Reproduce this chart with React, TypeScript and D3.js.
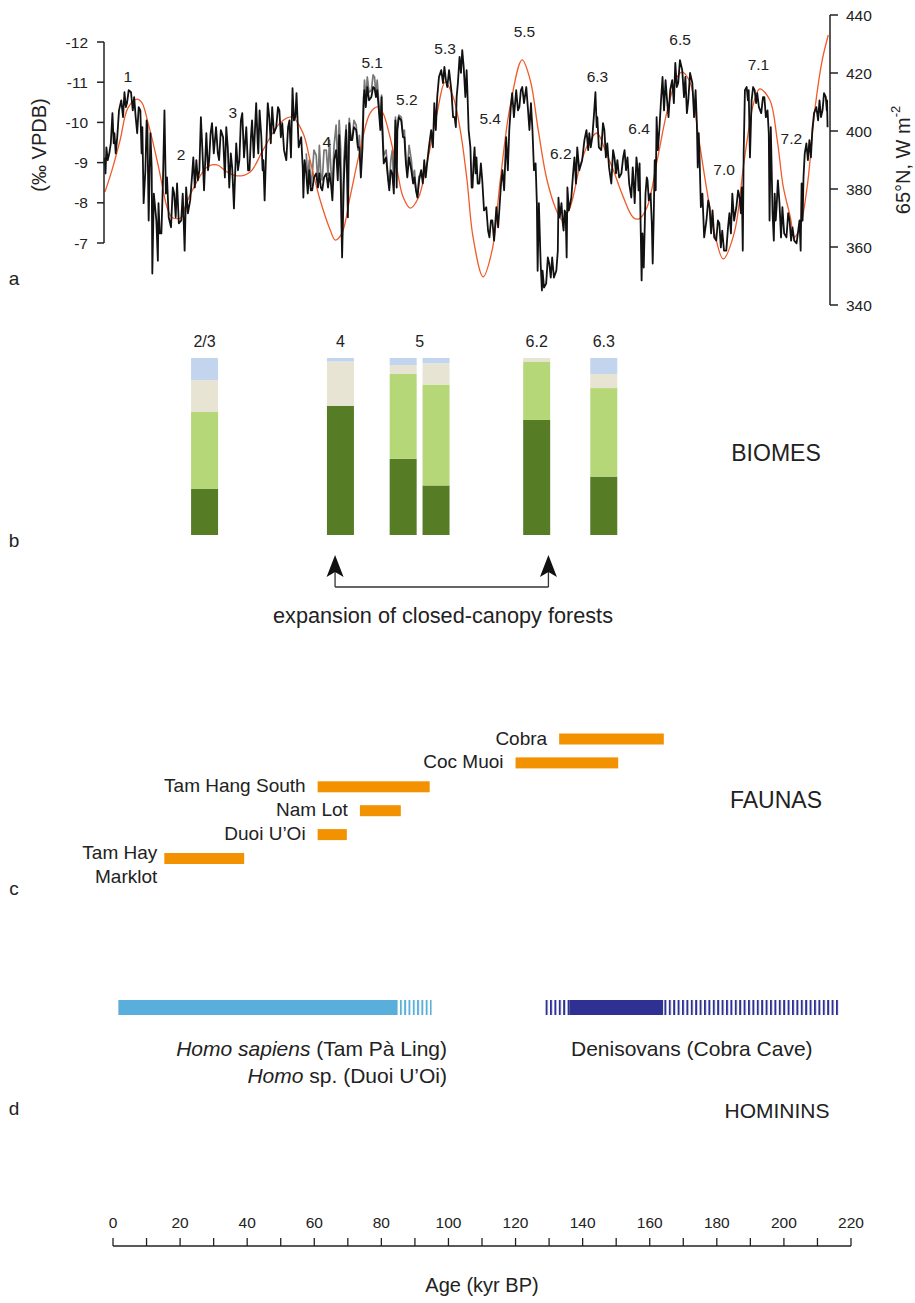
import React from 'react';
import * as d3 from 'd3';

const FONT = '"Liberation Sans", Arial, Helvetica, sans-serif';

// ---------- Panel a: 65°N insolation (W m-2) ----------
const insolAge = [0.3, 2.4, 4.8, 7.1, 9.8, 11.3, 13.1, 14.6, 16.4, 19.0, 20.5, 23.2, 24.1, 27.1, 30.7, 33.6, 36.6, 39.6, 43.5, 47.3, 52.4, 56.0, 59.2, 61.3, 64.3, 67.3, 68.8, 70.8, 73.2, 76.2, 79.2, 81.5, 83.0, 85.1, 87.2, 89.0, 91.1, 93.5, 96.1, 99.1, 101.5, 103.9, 106.0, 108.0, 109.8, 112.8, 115.5, 117.9, 120.8, 124.4, 126.8, 129.2, 131.8, 134.8, 136.3, 138.7, 141.7, 144.6, 146.7, 149.1, 151.5, 154.5, 157.4, 159.2, 161.6, 164.6, 167.6, 170.5, 172.0, 174.4, 176.8, 179.5, 181.8, 184.2, 187.5, 190.5, 193.3, 195.1, 198.1, 200.3, 202.1, 204.2, 205.4, 207.1, 209.2, 211.6, 213.7, 215.5];
const insolValue = [379.0, 386.6, 396.9, 407.9, 411.0, 409.7, 402.8, 395.9, 386.6, 372.8, 370.0, 370.3, 373.8, 381.4, 387.6, 388.3, 385.9, 384.5, 385.9, 393.4, 402.8, 404.8, 399.3, 390.0, 376.2, 365.9, 362.4, 364.8, 377.2, 393.4, 406.2, 408.3, 406.2, 397.9, 386.6, 377.2, 373.4, 376.9, 389.0, 406.2, 416.9, 411.7, 400.3, 383.1, 363.4, 349.7, 359.0, 383.1, 408.3, 424.5, 417.6, 400.3, 383.1, 372.1, 369.3, 373.8, 388.3, 396.9, 399.3, 393.4, 386.6, 377.2, 370.3, 369.7, 373.8, 390.0, 407.2, 418.6, 420.3, 416.6, 398.6, 378.6, 364.1, 355.9, 364.8, 390.0, 409.7, 414.5, 410.7, 396.9, 380.7, 370.3, 363.4, 366.9, 380.7, 408.3, 424.5, 433.1];

// ---------- Panel a: speleothem d18O (black), value range per age bin ----------
const spelAge = [
  0.3, 0.9, 1.8, 2.7, 3.3, 4.2, 5.4, 6.3, 7.1, 8.3, 9.2, 10.1, 11.0, 11.6, 12.5, 13.1, 14.0, 14.6, 15.8, 16.4, 17.3, 18.2, 19.0, 20.2, 21.1, 22.0, 23.2, 23.8, 24.7, 25.9, 26.8, 27.7, 28.6, 29.5, 30.7, 31.5, 32.4, 33.6, 34.5, 35.7,
  36.6, 37.5, 38.4, 39.6, 40.5, 41.4, 42.6, 43.5, 44.3, 45.5, 46.1, 47.0, 47.6, 48.5, 49.4, 50.3, 51.5, 52.4, 53.3, 54.5, 55.4, 56.3, 57.1, 57.7, 58.9, 59.5, 60.4, 61.3, 62.2, 63.4, 64.3, 65.2, 66.4, 67.3, 68.2, 69.3,
  70.2, 71.1, 72.3, 73.2, 74.1, 75.3, 76.2, 77.1, 77.7, 78.6, 79.8, 80.7, 81.5, 82.4, 83.0, 84.2, 85.1, 86.0, 86.9, 87.5, 88.7, 89.6, 90.5, 91.7, 92.6, 93.5, 94.6, 95.5, 96.4, 97.6, 98.5, 99.4, 100.6, 101.5, 102.4, 103.6, 104.5, 105.1, 106.0, 106.8,
  107.7, 108.3, 109.2, 109.8, 110.4, 111.0, 111.9, 112.8, 114.0, 114.9, 115.8, 117.0, 117.9, 118.8, 119.9, 120.8, 121.7, 122.9, 123.8, 124.7, 125.9, 126.8, 127.7, 128.6, 129.2, 130.1, 130.7, 131.8, 132.7, 133.6, 134.8, 135.4, 136.3, 136.9, 137.5, 138.1, 139.3, 140.2, 141.1,
  142.6, 143.8, 144.6, 145.5, 146.4, 147.0, 148.2, 149.1, 150.0, 151.2, 152.1, 153.0, 154.2, 155.1, 156.0, 157.1, 157.7, 158.6, 159.2, 159.8, 160.4, 161.3, 161.9, 162.8, 163.4, 164.0, 164.6, 165.5, 166.4, 167.3, 168.2, 169.3, 170.2, 171.1, 172.3, 173.2, 174.1, 175.3, 176.2, 176.8,
  177.4, 178.3, 179.5, 180.4, 181.3, 182.4, 183.3, 184.2, 185.4, 186.3, 187.2, 188.4, 189.3, 189.9, 190.5, 191.4, 192.0, 192.9, 193.8, 194.6, 195.8, 196.7, 197.6, 198.2, 199.1, 199.7, 200.3, 201.2, 202.1, 203.3, 204.2, 205.1, 206.3, 207.1, 207.7, 208.3, 209.2, 210.1, 211.0, 212.2, 213.1, 214.0, 214.9, 215.2,
];
const spelMin = [
  -9.13, -9.38, -9.48, -10.23, -9.73, -10.30, -10.55, -10.75, -10.80, -10.75, -10.63, -10.38, -10.30, -9.88, -10.05, -9.88, -9.73, -8.23, -7.56, -7.99, -8.48, -10.30, -8.63, -8.38, -8.23, -8.48, -8.23, -7.81, -8.38, -8.63, -9.13, -9.06, -10.13, -9.38, -9.73, -9.73, -9.98, -9.88, -9.81, -9.63,
  -9.88, -9.23, -8.88, -9.48, -10.05, -10.23, -9.88, -9.63, -10.05, -10.48, -10.30, -9.63, -9.06, -10.48, -10.13, -10.38, -10.38, -10.30, -9.98, -9.88, -10.05, -10.85, -10.73, -10.30, -9.63, -9.06, -8.73, -8.81, -8.63, -8.73, -8.73, -8.63, -8.73, -8.73, -9.06, -9.31,
  -9.68, -8.56, -9.81, -9.98, -9.88, -9.81, -9.38, -10.63, -10.80, -10.88, -10.88, -10.85, -10.80, -10.63, -9.88, -9.13, -8.81, -8.73, -10.05, -10.13, -10.05, -9.63, -9.13, -8.81, -8.63, -8.56, -8.81, -9.06, -9.38, -9.81, -10.48, -11.13, -11.30, -11.38, -11.30, -10.80, -10.13, -10.98, -11.63, -11.80,
  -11.30, -10.80, -9.38, -8.98, -9.38, -9.13, -8.98, -8.56, -7.89, -7.56, -7.56, -7.89, -8.48, -8.81, -9.63, -10.38, -10.73, -10.80, -10.80, -10.88, -10.88, -10.48, -9.81, -8.98, -7.99, -6.49, -6.31, -6.64, -6.49, -6.64, -6.81, -8.13, -7.99, -7.81, -7.74, -8.38, -8.73, -9.13, -9.38,
  -9.56, -9.81, -9.73, -10.13, -10.75, -10.13, -9.98, -9.81, -9.48, -9.31, -9.13, -9.06, -9.13, -9.31, -9.13, -8.88, -8.63, -9.13, -8.98, -7.49, -7.24, -8.63, -8.56, -8.23, -7.64, -9.06, -10.13, -10.55, -11.13, -11.05, -10.80, -11.05, -11.48, -11.55, -11.30, -11.13, -11.23, -10.98, -10.80, -9.73,
  -9.06, -8.23, -8.06, -7.89, -7.81, -7.56, -7.49, -7.31, -7.39, -7.74, -8.23, -8.31, -8.13, -8.38, -10.80, -10.88, -10.80, -10.88, -10.80, -10.73, -10.63, -10.63, -10.30, -9.88, -7.74, -8.23, -8.56, -7.99, -7.89, -7.74, -7.56, -7.39, -7.31, -7.56, -8.48, -9.23, -9.48, -9.56, -10.23, -10.38, -10.55, -10.73, -10.63, -10.55,
];
const spelMax = [
  -8.73, -9.06, -9.23, -9.48, -9.23, -9.63, -10.13, -10.38, -10.48, -10.30, -10.13, -9.73, -9.23, -7.99, -8.81, -7.56, -8.88, -6.24, -6.56, -7.24, -7.24, -8.23, -7.64, -7.39, -7.64, -7.49, -7.56, -6.81, -7.74, -8.06, -8.38, -8.56, -8.81, -8.31, -8.81, -9.06, -9.23, -9.23, -9.06, -8.63,
  -9.38, -8.38, -7.86, -8.81, -9.06, -9.13, -8.81, -8.81, -9.13, -9.48, -9.23, -8.81, -8.06, -9.38, -9.48, -9.73, -9.88, -9.63, -9.31, -9.06, -9.13, -10.05, -10.13, -9.38, -8.88, -8.13, -8.23, -8.31, -8.31, -8.38, -8.38, -8.31, -8.38, -8.48, -8.06, -8.56,
  -8.48, -6.64, -7.64, -9.56, -9.56, -9.38, -8.63, -9.38, -10.38, -10.55, -10.63, -10.63, -10.38, -9.81, -8.98, -8.63, -8.31, -8.23, -8.38, -9.81, -9.63, -8.98, -8.63, -8.48, -8.31, -8.13, -8.48, -8.63, -8.98, -9.38, -9.81, -10.63, -10.98, -11.05, -10.88, -10.13, -9.88, -10.63, -11.23, -11.38,
  -10.63, -9.81, -8.38, -8.38, -8.73, -8.48, -8.48, -7.81, -7.31, -7.14, -7.06, -7.39, -7.89, -8.31, -8.81, -9.81, -10.13, -10.30, -10.38, -10.48, -10.30, -9.81, -8.81, -7.99, -6.31, -5.82, -5.89, -5.99, -6.14, -6.14, -6.31, -7.64, -7.49, -7.31, -6.64, -7.81, -8.13, -8.48, -8.81,
  -9.06, -9.31, -9.38, -9.63, -9.88, -9.38, -9.31, -9.13, -8.88, -8.48, -8.73, -8.63, -8.73, -8.81, -8.48, -8.13, -7.99, -8.81, -8.31, -6.07, -6.39, -8.23, -8.06, -7.49, -6.49, -8.31, -9.31, -9.88, -10.30, -10.55, -10.13, -10.48, -10.88, -10.98, -10.63, -10.23, -10.55, -10.13, -9.98, -8.88,
  -7.89, -7.14, -7.56, -7.24, -7.14, -7.06, -6.89, -6.81, -6.81, -7.24, -7.56, -7.89, -7.74, -6.81, -9.23, -10.55, -9.13, -10.55, -10.48, -10.38, -10.23, -10.13, -9.73, -7.56, -7.06, -7.56, -7.89, -7.14, -7.24, -7.14, -7.06, -7.06, -6.99, -6.81, -7.56, -8.63, -9.06, -9.13, -9.81, -10.05, -10.13, -10.30, -10.30, -9.88,
];

// second (grey) record
const greyAge = [60.4, 61.3, 62.2, 63.4, 64.3, 65.2, 66.4, 67.3, 68.2, 69.3, 70.2, 71.1, 72.3, 73.2, 74.1, 75.3, 76.2, 77.1, 77.7, 78.6, 79.8, 80.7, 81.5, 82.4, 83.0, 84.2, 85.1, 86.0, 86.9, 87.5, 88.7, 89.6, 90.5, 91.7, 92.6, 93.5];
const greyMin = [-9.23, -9.06, -9.31, -9.18, -9.43, -9.31, -9.31, -9.56, -9.43, -9.93, -10.05, -9.06, -9.93, -10.10, -10.05, -9.93, -9.68, -10.68, -11.05, -11.13, -11.18, -11.13, -11.05, -10.68, -10.05, -9.31, -9.06, -9.31, -10.13, -10.18, -10.13, -9.81, -9.43, -9.06, -8.81, -8.68];
const greyMax = [-8.56, -8.43, -8.68, -8.43, -8.68, -8.56, -8.68, -8.81, -8.43, -8.93, -9.31, -7.06, -8.68, -9.68, -9.56, -9.31, -8.93, -9.81, -10.55, -10.75, -10.80, -10.68, -10.55, -9.93, -9.18, -8.68, -8.43, -8.43, -9.06, -9.93, -9.68, -9.06, -8.81, -8.56, -8.31, -8.18];

// stage annotations (age, d18O position)
const stageNames = ['1', '2', '3', '4', '5.1', '5.2', '5.3', '5.5', '5.4', '6.2', '6.3', '6.4', '6.5', '7.0', '7.1', '7.2'];
const stageAge = [7.05, 22.9, 38.3, 66.3, 79.8, 90.1, 101.5, 125.1, 114.9, 135.9, 146.8, 159.2, 171.4, 184.5, 194.7, 204.5];
const stageValue = [-11.15, -9.2, -10.24, -9.53, -11.48, -10.58, -11.83, -12.26, -10.1, -9.22, -11.15, -9.85, -12.07, -8.83, -11.45, -9.6];

const d18OTicks = [-12, -11, -10, -9, -8, -7];
const insolTicks = [340, 360, 380, 400, 420, 440];

// ---------- Panel b: biomes (%) ----------
const biomeAge = [27.3, 67.8, 86.5, 96.3, 126.3, 146.3];
const biomeDarkGreen = [26, 73, 43, 28, 65, 33];
const biomeLightGreen = [43.5, 0, 48, 57, 33, 50];
const biomeBeige = [18, 25, 5, 12, 2, 8];
const biomeBlue = [12.5, 2, 4, 3, 0, 9];
const biomeLabels = ['2/3', '4', '5', '6.2', '6.3'];
const biomeLabelAge = [27.3, 67.8, 91.4, 126.3, 146.3];
const arrowAges = [66.2, 129.8];

// ---------- Panel c: faunas (kyr) ----------
const faunaNames = ['Cobra', 'Coc Muoi', 'Tam Hang South', 'Nam Lot', 'Duoi U’Oi', 'Tam Hay|Marklot'];
const faunaStart = [133, 120, 61, 73.6, 61, 15.3];
const faunaEnd = [164.2, 150.6, 94.4, 85.8, 69.7, 39.1];

// ---------- Panel d: hominins (kyr) ----------
const sapiensSolid = [1.6, 84.8];
const sapiensUncertain = [84.8, 95];
const denisovaUncertainYoung = [128.8, 136];
const denisovaSolid = [136, 164];
const denisovaUncertainOld = [164, 216.3];

const ageTicks = d3.range(0, 221, 10);

const C_ORANGE = '#f15a29';
const C_FAUNA = '#f39200';
const C_BLUE_LIGHT = '#5aaedb';
const C_BLUE_DARK = '#2e3192';
const BIOME_COLORS = ['#567d26', '#b5d778', '#e7e4d4', '#c2d4ee'];

// dense sawtooth through each bin's min and max (rendering of the range)
function saw(ages: number[], mins: number[], maxs: number[]): [number, number][] {
  const pts: [number, number][] = [];
  const n = ages.length;
  ages.forEach((a, i) => {
    const prev = i > 0 ? ages[i - 1] : a - (ages[1] - ages[0]);
    const next = i < n - 1 ? ages[i + 1] : a + (a - ages[i - 1]);
    const q = (next - prev) / 8;
    if (i % 3 === 2) {
      pts.push([a - q, maxs[i]]);
      pts.push([a + q, mins[i]]);
    } else {
      pts.push([a - q, mins[i]]);
      pts.push([a + q, maxs[i]]);
    }
  });
  return pts;
}

export default function App() {
  const xA = d3.scaleLinear().domain([0, 216]).range([104, 830]);
  const yD = d3.scaleLinear().domain([-12, -7]).range([42, 243]);
  const yI = d3.scaleLinear().domain([340, 440]).range([305, 15]);
  const xB = d3.scaleLinear().domain([0, 220]).range([113, 851]);
  const yBio = d3.scaleLinear().domain([0, 100]).range([535, 358]);
  const yFauna = d3.scalePoint<string>().domain(faunaNames).range([739, 858.5]);

  const lineD = d3.line<[number, number]>().x((d) => xA(d[0])).y((d) => yD(d[1]));
  const lineI = d3
    .line<[number, number]>()
    .x((d) => xA(d[0]))
    .y((d) => yI(d[1]))
    .curve(d3.curveCatmullRom.alpha(0.5));

  const insolPts: [number, number][] = insolAge.map((a, i) => [a, insolValue[i]]);
  const blackPath = lineD(saw(spelAge, spelMin, spelMax)) || '';
  const greyPath = lineD(saw(greyAge, greyMin, greyMax)) || '';

  const biomeStacks = biomeAge.map((a, i) => {
    const vals = [biomeDarkGreen[i], biomeLightGreen[i], biomeBeige[i], biomeBlue[i]];
    let acc = 0;
    return vals.map((v, k) => {
      const seg = { age: a, y0: acc, y1: acc + v, color: BIOME_COLORS[k] };
      acc += v;
      return seg;
    });
  });

  const barW = 27;
  const homY = 1000;
  const homH = 15;

  return (
    <svg
      width={915}
      height={1303}
      viewBox="0 0 915 1303"
      style={{ position: 'absolute', left: 0, top: 0, background: '#fff' }}
      fontFamily={FONT}
    >
      <defs>
        <pattern id="stripeLight" width={4.3} height={30} patternUnits="userSpaceOnUse">
          <rect x={0} y={0} width={1.9} height={30} fill={C_BLUE_LIGHT} />
        </pattern>
        <pattern id="stripeDark" width={4.4} height={30} patternUnits="userSpaceOnUse">
          <rect x={0} y={0} width={2} height={30} fill={C_BLUE_DARK} />
        </pattern>
      </defs>
      <rect x={0} y={0} width={915} height={1303} fill="#fff" />

      {/* ---------- Panel a ---------- */}
      <g>
        <path d={greyPath} fill="none" stroke="#777" strokeWidth={1.7} strokeLinejoin="round" />
        <path d={lineI(insolPts) || ''} fill="none" stroke={C_ORANGE} strokeWidth={1.3} />
        <path d={blackPath} fill="none" stroke="#111" strokeWidth={1.8} strokeLinejoin="round" />

        {/* left axis */}
        <line x1={104} x2={104} y1={yD(-12)} y2={yD(-7)} stroke="#222" strokeWidth={1.5} />
        {d18OTicks.map((t) => (
          <g key={t}>
            <line x1={97} x2={104} y1={yD(t)} y2={yD(t)} stroke="#222" strokeWidth={1.5} />
            <text x={88} y={yD(t)} textAnchor="end" dominantBaseline="central" fontSize={15.5} fill="#222">
              {t}
            </text>
          </g>
        ))}
        <text transform="translate(39,145) rotate(-90)" textAnchor="middle" dominantBaseline="central" fontSize={20} fill="#222">
          (‰ VPDB)
        </text>

        {/* right axis */}
        <line x1={830} x2={830} y1={yI(440)} y2={yI(340)} stroke="#222" strokeWidth={1.5} />
        {insolTicks.map((t) => (
          <g key={t}>
            <line x1={830} x2={838} y1={yI(t)} y2={yI(t)} stroke="#222" strokeWidth={1.5} />
            <text x={846} y={yI(t)} textAnchor="start" dominantBaseline="central" fontSize={15.5} fill="#222">
              {t}
            </text>
          </g>
        ))}
        <text transform="translate(903,160) rotate(-90)" textAnchor="middle" dominantBaseline="central" fontSize={20} fill="#222">
          65°N, W m<tspan dy={-8} fontSize={13}>-2</tspan>
        </text>

        {stageNames.map((s, i) => (
          <text key={s} x={xA(stageAge[i])} y={yD(stageValue[i])} textAnchor="middle" dominantBaseline="central" fontSize={15.5} fill="#222">
            {s}
          </text>
        ))}
      </g>

      {/* ---------- Panel b ---------- */}
      <g>
        {biomeStacks.map((stack, i) =>
          stack
            .filter((s) => s.y1 > s.y0)
            .map((s, k) => (
              <rect
                key={`${i}-${k}`}
                x={xB(s.age) - barW / 2}
                width={barW}
                y={yBio(s.y1)}
                height={yBio(s.y0) - yBio(s.y1)}
                fill={s.color}
              />
            ))
        )}
        {biomeLabels.map((l, i) => (
          <text key={l} x={xB(biomeLabelAge[i])} y={341} textAnchor="middle" dominantBaseline="central" fontSize={16} fill="#222">
            {l}
          </text>
        ))}
        <text x={776} y={453} textAnchor="middle" dominantBaseline="central" fontSize={23} fill="#222">
          BIOMES
        </text>
        {arrowAges.map((a) => {
          const x = xB(a);
          return (
            <g key={a}>
              <line x1={x} x2={x} y1={571} y2={587} stroke="#333" strokeWidth={1.3} />
              <path d={`M${x},555 L${x - 8.5},577 L${x},572 L${x + 8.5},577 Z`} fill="#111" />
            </g>
          );
        })}
        <line x1={xB(arrowAges[0])} x2={xB(arrowAges[1])} y1={587} y2={587} stroke="#333" strokeWidth={1.3} />
        <text x={443} y={615} textAnchor="middle" dominantBaseline="central" fontSize={21.7} fill="#222">
          expansion of closed-canopy forests
        </text>
      </g>

      {/* ---------- Panel c ---------- */}
      <g>
        {faunaNames.map((n, i) => {
          const y = yFauna(n) as number;
          const x0 = xB(faunaStart[i]);
          const lines = n.split('|');
          return (
            <g key={n}>
              <rect x={x0} width={xB(faunaEnd[i]) - x0} y={y - 5.5} height={11} fill={C_FAUNA} />
              {lines.length === 1 ? (
                <text x={x0 - 12} y={y - 1} textAnchor="end" dominantBaseline="central" fontSize={19} fill="#222">
                  {n}
                </text>
              ) : (
                lines.map((l, k) => (
                  <text key={l} x={x0 - 7} y={y - 6 + k * 24} textAnchor="end" dominantBaseline="central" fontSize={19} fill="#222">
                    {l}
                  </text>
                ))
              )}
            </g>
          );
        })}
        <text x={776} y={800} textAnchor="middle" dominantBaseline="central" fontSize={23} fill="#222">
          FAUNAS
        </text>
      </g>

      {/* ---------- Panel d ---------- */}
      <g>
        <rect x={xB(sapiensSolid[0])} width={xB(sapiensSolid[1]) - xB(sapiensSolid[0])} y={homY} height={homH} fill={C_BLUE_LIGHT} />
        <rect x={xB(sapiensUncertain[0])} width={xB(sapiensUncertain[1]) - xB(sapiensUncertain[0])} y={homY} height={homH} fill="url(#stripeLight)" />
        <rect x={xB(denisovaUncertainYoung[0])} width={xB(denisovaUncertainYoung[1]) - xB(denisovaUncertainYoung[0])} y={homY} height={homH} fill="url(#stripeDark)" />
        <rect x={xB(denisovaSolid[0])} width={xB(denisovaSolid[1]) - xB(denisovaSolid[0])} y={homY} height={homH} fill={C_BLUE_DARK} />
        <rect x={xB(denisovaUncertainOld[0])} width={xB(denisovaUncertainOld[1]) - xB(denisovaUncertainOld[0])} y={homY} height={homH} fill="url(#stripeDark)" />

        <text x={447} y={1048} textAnchor="end" dominantBaseline="central" fontSize={21} fill="#222">
          <tspan fontStyle="italic">Homo sapiens</tspan> (Tam Pà Ling)
        </text>
        <text x={447} y={1075} textAnchor="end" dominantBaseline="central" fontSize={21} fill="#222">
          <tspan fontStyle="italic">Homo</tspan> sp. (Duoi U’Oi)
        </text>
        <text x={571} y={1048} textAnchor="start" dominantBaseline="central" fontSize={21} fill="#222">
          Denisovans (Cobra Cave)
        </text>
        <text x={777} y={1110} textAnchor="middle" dominantBaseline="central" fontSize={21} fill="#222">
          HOMININS
        </text>
      </g>

      {/* ---------- Age axis ---------- */}
      <g>
        <line x1={xB(0)} x2={xB(220)} y1={1246} y2={1246} stroke="#222" strokeWidth={1.5} />
        {ageTicks.map((t) => (
          <g key={t}>
            <line x1={xB(t)} x2={xB(t)} y1={1238} y2={1246} stroke="#222" strokeWidth={1.3} />
            {t % 20 === 0 && (
              <text x={xB(t)} y={1222} textAnchor="middle" dominantBaseline="central" fontSize={15.5} fill="#222">
                {t}
              </text>
            )}
          </g>
        ))}
        <text x={482} y={1285} textAnchor="middle" dominantBaseline="central" fontSize={20} fill="#222">
          Age (kyr BP)
        </text>
      </g>

      {/* panel letters */}
      {[
        ['a', 278],
        ['b', 540],
        ['c', 888],
        ['d', 1108],
      ].map(([l, y]) => (
        <text key={l as string} x={14} y={y as number} textAnchor="middle" dominantBaseline="central" fontSize={19} fill="#222">
          {l}
        </text>
      ))}
    </svg>
  );
}
